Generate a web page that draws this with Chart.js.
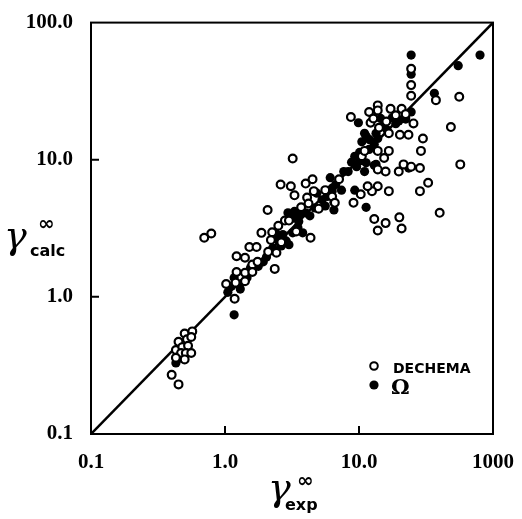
<!DOCTYPE html>
<html>
<head>
<meta charset="utf-8">
<script src="https://cdn.jsdelivr.net/npm/chart.js@4"></script>
<style>
  html, body { margin: 0; padding: 0; background: #fff; }
  #wrap { width: 522px; height: 519px; }
</style>
</head>
<body>
<div id="wrap"><canvas id="chart" width="522" height="519"></canvas></div>
<script>
'use strict';

// ── Data ───────────────────────────────────────────────────────────────────
// DECHEMA (open circles): gamma_exp vs gamma_calc
const dechemaX = [0.50, 0.57, 0.45, 0.52, 0.56, 0.43, 0.48, 0.53, 0.47, 0.51, 0.56, 0.43, 0.50, 0.40, 0.45,
  0.70, 0.79,
  1.52, 1.72, 1.22, 1.41, 1.87, 2.25, 2.63, 2.42, 2.10, 2.35, 1.60, 1.75, 1.22, 1.41, 1.60, 1.41, 1.20, 1.02, 1.18,
  2.6, 3.1, 3.3, 4.0, 4.5, 4.1, 2.08, 2.5, 4.35, 6.3, 6.6, 7.1, 3.4, 2.8, 4.2, 5.6, 3.2,
  3.0, 3.7, 5.0, 4.6, 2.2,
  24.5, 13.8, 13.8, 11.9, 17.2, 20.8, 8.7, 18.8, 22.3, 25.5, 12.2, 14.1, 20.2, 23.4, 16.7,
  12.8, 16.0, 10.5,
  11.0, 13.8, 16.7, 15.4, 21.5, 19.8, 15.8, 13.8, 28.5, 24.5,
  28.5, 16.7, 13.8, 12.5, 11.6, 10.3, 9.1, 13.0, 15.8, 13.8, 20.0, 20.8,
  24.5, 24.5, 37.5, 56, 48.5, 57, 40, 30, 29, 32.8];
const dechemaY = [0.54, 0.56, 0.47, 0.49, 0.51, 0.41, 0.43, 0.44, 0.39, 0.39, 0.39, 0.36, 0.35, 0.27, 0.23,
  2.7, 2.9,
  2.31, 2.31, 1.98, 1.93, 2.93, 2.96, 2.5, 2.1, 2.13, 1.6, 1.72, 1.8, 1.52, 1.5, 1.52, 1.3, 1.27, 1.24, 0.97,
  6.6, 6.4, 5.5, 6.7, 7.2, 5.3, 4.3, 3.3, 2.7, 5.4, 4.85, 7.2, 3.0, 3.6, 4.8, 6.0, 10.2,
  3.6, 4.5, 4.4, 5.9, 2.6,
  29.3, 24.9, 22.9, 22.3, 23.5, 23.5, 20.5, 21.1, 21.5, 18.4, 18.6, 17.1, 15.2, 15.2, 15.6,
  20.0, 19.0, 10.6,
  11.6, 11.6, 11.6, 10.3, 9.25, 8.2, 8.2, 8.5, 8.7, 8.9,
  5.9, 5.9, 6.4, 5.9, 6.4, 5.6, 4.85, 3.7, 3.45, 3.05, 3.8, 3.15,
  46, 35, 27.2, 28.8, 17.3, 9.25, 4.1, 14.3, 11.6, 6.8];

// Omega (filled circles)
const omegaX = [0.43, 0.44, 1.17,
  1.17, 1.29, 1.12, 1.30, 1.46, 1.55, 1.77, 1.93, 2.04, 2.27, 2.5, 2.7, 1.05,
  2.95, 3.3, 3.2, 3.55, 4.0, 4.7, 4.85, 5.3, 5.8, 5.6, 6.3, 6.7, 6.5, 2.86, 3.2, 3.5, 2.63, 3.0, 3.8,
  3.6, 4.3, 2.4,
  9.9, 11.0, 11.3, 13.4, 13.8, 13.0, 17.7, 19.8, 18.8, 22.3, 16.2, 11.9, 10.1, 11.3, 10.1, 9.6, 13.0, 9.3, 8.3, 7.7,
  15.0, 14.5, 12.0, 10.5, 8.8,
  11.3, 11.0, 13.4, 9.3, 6.1, 6.3, 7.4, 5.8, 6.5, 23.5,
  24.5, 24.5, 80, 55, 36.5, 24.5, 22.3];
const omegaY = [0.33, 0.35, 0.74,
  1.38, 1.24, 1.2, 1.14, 1.38, 1.63, 1.67, 1.8, 1.95, 2.27, 2.58, 2.85, 1.08,
  4.1, 4.2, 3.75, 3.55, 4.1, 4.45, 5.7, 5.1, 5.7, 4.6, 6.2, 6.6, 4.3, 2.56, 2.93, 3.2, 2.35, 2.4, 2.93,
  4.0, 3.9, 2.9,
  18.6, 15.6, 14.9, 15.6, 14.3, 12.9, 20.2, 19.2, 18.3, 19.8, 16.5, 11.9, 11.3, 9.5, 9.8, 8.9, 9.1, 10.6, 8.2, 8.2,
  17.5, 20.0, 14.0, 13.5, 9.6,
  4.5, 8.2, 9.25, 6.0, 7.4, 5.9, 6.0, 5.4, 4.9, 8.7,
  58, 42, 58, 48.5, 30.5, 22.3, 20.2];

// y = x reference line
const diagVals = [0.1, 100];

const xTickVals   = [0.1, 1, 10, 100];
const xTickLabels = ['0.1', '1.0', '10.0', '1000'];
const yTickVals   = [0.1, 1, 10, 100];
const yTickLabels = ['0.1', '1.0', '10.0', '100.0'];

// ── Helpers ────────────────────────────────────────────────────────────────
const pts = (xs, ys) => xs.map((x, i) => ({ x, y: ys[i] }));
const tickFont = { family: '"Liberation Serif", serif', size: 21, weight: 'bold' };

// ── Extras: frame, inner ticks, axis titles, legend ────────────────────────
const extras = {
  id: 'extras',
  afterDraw(chart) {
    const { ctx, chartArea: a, scales } = chart;
    ctx.save();
    ctx.strokeStyle = '#000';
    ctx.lineWidth = 2;
    ctx.strokeRect(a.left, a.top, a.right - a.left, a.bottom - a.top);

    // inner tick marks
    ctx.beginPath();
    [1, 10].forEach(v => {
      const px = scales.x.getPixelForValue(v);
      ctx.moveTo(px, a.bottom); ctx.lineTo(px, a.bottom - 8);
      const py = scales.y.getPixelForValue(v);
      ctx.moveTo(a.left, py); ctx.lineTo(a.left + 8, py);
    });
    ctx.stroke();

    ctx.fillStyle = '#000';
    ctx.textBaseline = 'alphabetic';
    // y title
    ctx.font = 'italic 38px "DejaVu Serif"';
    ctx.fillText('γ', 4, 248);
    ctx.font = 'bold 20px "DejaVu Sans"';
    ctx.fillText('∞', 38, 230);
    ctx.font = 'bold 16px "DejaVu Sans"';
    ctx.fillText('calc', 30, 256);
    // x title
    ctx.font = 'italic 38px "DejaVu Serif"';
    ctx.fillText('γ', 268, 500);
    ctx.font = 'bold 20px "DejaVu Sans"';
    ctx.fillText('∞', 297, 487);
    ctx.font = 'bold 16px "DejaVu Sans"';
    ctx.fillText('exp', 285, 510);

    // legend
    ctx.lineWidth = 2;
    ctx.beginPath();
    ctx.arc(374, 366, 3.8, 0, Math.PI * 2);
    ctx.fillStyle = '#fff'; ctx.fill(); ctx.stroke();
    ctx.beginPath();
    ctx.arc(374, 385, 4.6, 0, Math.PI * 2);
    ctx.fillStyle = '#000'; ctx.fill();
    ctx.font = 'bold 14px "DejaVu Sans"';
    ctx.fillText('DECHEMA', 393, 373);
    ctx.font = 'bold 21px "DejaVu Serif"';
    ctx.fillText('Ω', 391, 394);
    ctx.restore();
  },
};

// ── Chart ──────────────────────────────────────────────────────────────────
new Chart(document.getElementById('chart'), {
  type: 'scatter',
  data: {
    datasets: [
      {
        label: 'DECHEMA',
        data: pts(dechemaX, dechemaY),
        pointStyle: 'circle',
        pointRadius: 3.9,
        borderWidth: 2.2,
        borderColor: '#000',
        backgroundColor: '#fff',
      },
      {
        label: 'Ω',
        data: pts(omegaX, omegaY),
        pointStyle: 'circle',
        pointRadius: 4.6,
        borderWidth: 0,
        backgroundColor: '#000',
      },
      {
        type: 'line',
        label: 'y = x',
        data: pts(diagVals, diagVals),
        borderColor: '#000',
        borderWidth: 2.5,
        pointRadius: 0,
        fill: false,
      },
    ],
  },
  options: {
    responsive: false,
    animation: false,
    devicePixelRatio: 1,
    layout: { padding: { left: 0, right: 22, top: 21, bottom: 0 } },
    plugins: { legend: { display: false }, tooltip: { enabled: false } },
    scales: {
      x: {
        type: 'logarithmic',
        min: 0.1, max: 100,
        afterBuildTicks: s => { s.ticks = xTickVals.map(v => ({ value: v })); },
        afterFit: s => { s.height = 85; },
        ticks: {
          callback: (v, i) => xTickLabels[i],
          color: '#000', font: tickFont, padding: 8,
          maxRotation: 0, autoSkip: false,
        },
        grid: { display: false },
        border: { display: true, color: '#000', width: 2 },
      },
      y: {
        type: 'logarithmic',
        min: 0.1, max: 100,
        afterBuildTicks: s => { s.ticks = yTickVals.map(v => ({ value: v })); },
        afterFit: s => { s.width = 91; },
        ticks: {
          callback: (v, i) => yTickLabels[i],
          color: '#000', font: tickFont, padding: 10,
          autoSkip: false,
        },
        grid: { display: false },
        border: { display: true, color: '#000', width: 2 },
      },
    },
  },
  plugins: [extras],
});
</script>
</body>
</html>
